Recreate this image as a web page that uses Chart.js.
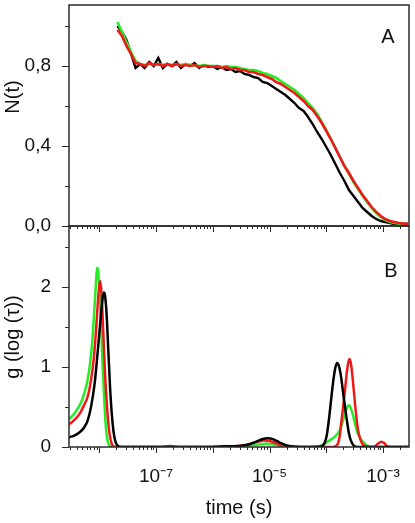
<!DOCTYPE html>
<html>
<head>
<meta charset="utf-8">
<script src="https://cdn.jsdelivr.net/npm/chart.js@4.4.1/dist/chart.umd.min.js"></script>
<style>
  body { margin: 0; background: #fff; }
  #wrap { position: relative; width: 415px; height: 523px; }
  canvas { position: absolute; left: 0; }
  #chartA { top: 0; }
  #chartB { top: 220px; }
</style>
</head>
<body>
<div id="wrap">
  <canvas id="chartA" width="415" height="240"></canvas>
  <canvas id="chartB" width="415" height="303"></canvas>
</div>
<script>
// axis ranges (time in s)
var xMin = 2.93e-9;
var xMax = 2.87e-3;
var xTicks = [1e-7, 1e-5, 1e-3];
var xTickText = ['10\u207B\u2077', '10\u207B\u2075', '10\u207B\u00B3'];

var aTicks = [0, 0.2, 0.4, 0.6, 0.8, 1.0];
var aTickText = ['0,0', '', '0,4', '', '0,8', ''];
var bTicks = [0, 0.5, 1, 1.5, 2, 2.5];
var bTickText = ['0', '', '1', '', '2', ''];

// panel A: N(t), log10 of lag time
var aLog = [-7.68, -7.60, -7.52, -7.44, -7.36, -7.28, -7.20, -7.12, -7.04, -6.96, -6.88, -6.80, -6.72,
  -6.64, -6.56, -6.48, -6.40, -6.32, -6.24, -6.16, -6.08, -6.00, -5.92, -5.84, -5.76, -5.68, -5.60,
  -5.52, -5.44, -5.36, -5.28, -5.20, -5.12, -5.04, -4.96, -4.88, -4.80, -4.72, -4.64, -4.56, -4.48,
  -4.40, -4.32, -4.24, -4.16, -4.08, -4.00, -3.92, -3.84, -3.76, -3.68, -3.60, -3.52, -3.44, -3.36,
  -3.28, -3.20, -3.12, -3.04, -2.96, -2.88, -2.80, -2.72, -2.64, -2.56];
var aBlack = [1.00, 0.97, 0.93, 0.86, 0.79, 0.81, 0.79, 0.82, 0.80, 0.84, 0.79, 0.81, 0.80,
  0.82, 0.79, 0.81, 0.80, 0.815, 0.79, 0.805, 0.795, 0.80, 0.785, 0.795, 0.78, 0.785, 0.77,
  0.775, 0.76, 0.755, 0.745, 0.74, 0.72, 0.715, 0.70, 0.685, 0.67, 0.655, 0.635, 0.615, 0.59,
  0.575, 0.545, 0.51, 0.47, 0.435, 0.395, 0.355, 0.31, 0.265, 0.225, 0.18, 0.15, 0.12, 0.09,
  0.07, 0.05, 0.035, 0.025, 0.02, 0.015, 0.01, 0.01, 0.008, 0.01];
var aRed = [0.98, 0.95, 0.90, 0.86, 0.815, 0.81, 0.80, 0.815, 0.805, 0.81, 0.80, 0.81, 0.80,
  0.81, 0.80, 0.805, 0.80, 0.805, 0.795, 0.80, 0.80, 0.795, 0.80, 0.79, 0.795, 0.785, 0.79,
  0.78, 0.78, 0.77, 0.77, 0.76, 0.755, 0.745, 0.735, 0.72, 0.71, 0.695, 0.68, 0.665, 0.645,
  0.625, 0.60, 0.58, 0.55, 0.515, 0.475, 0.435, 0.39, 0.345, 0.30, 0.265, 0.225, 0.19, 0.155,
  0.125, 0.095, 0.07, 0.05, 0.035, 0.025, 0.02, 0.015, 0.012, 0.012];
var aGreen = [1.02, 0.97, 0.92, 0.87, 0.825, 0.81, 0.805, 0.81, 0.805, 0.81, 0.805, 0.81, 0.805,
  0.81, 0.805, 0.81, 0.805, 0.805, 0.80, 0.805, 0.80, 0.80, 0.80, 0.795, 0.80, 0.795, 0.795,
  0.79, 0.785, 0.78, 0.78, 0.775, 0.765, 0.76, 0.75, 0.74, 0.725, 0.71, 0.695, 0.68, 0.66,
  0.64, 0.615, 0.59, 0.56, 0.52, 0.48, 0.435, 0.39, 0.345, 0.30, 0.26, 0.22, 0.185, 0.15,
  0.12, 0.09, 0.065, 0.045, 0.03, 0.02, 0.015, 0.012, 0.01, 0.01];

// panel B: g(log(tau))
var bBlackLog = [-8.54, -8.45, -8.35, -8.27, -8.20, -8.14, -8.08, -8.02, -7.97, -7.94, -7.92, -7.90,
  -7.87, -7.84, -7.81, -7.78, -7.75, -7.72, -7.68, -7.62, -6.20, -5.80, -5.50, -5.35, -5.22, -5.12,
  -5.03, -4.93, -4.82, -4.70, -4.55, -4.30, -4.10, -4.03, -3.99, -3.95, -3.91, -3.87, -3.84, -3.81,
  -3.78, -3.74, -3.70, -3.66, -3.63, -3.60, -3.57, -3.53, -3.48, -3.40, -2.54];
var bBlack = [0.12, 0.14, 0.18, 0.24, 0.34, 0.52, 0.80, 1.25, 1.65, 1.86, 1.93, 1.90,
  1.65, 1.20, 0.75, 0.42, 0.20, 0.08, 0.02, 0, 0, 0.008, 0.015, 0.035, 0.07, 0.10,
  0.11, 0.095, 0.055, 0.02, 0.003, 0, 0.005, 0.05, 0.15, 0.36, 0.62, 0.86, 0.99, 1.05,
  1.02, 0.88, 0.66, 0.45, 0.30, 0.17, 0.09, 0.03, 0.005, 0, 0];

var bRedLog = [-8.54, -8.45, -8.35, -8.27, -8.20, -8.14, -8.10, -8.06, -8.03, -8.00, -7.98, -7.96,
  -7.93, -7.90, -7.86, -7.82, -7.78, -7.74, -7.68, -6.90, -6.76, -6.62, -5.90, -5.60, -5.40, -5.22,
  -5.10, -5.00, -4.90, -4.78, -4.60, -4.30, -3.90, -3.84, -3.79, -3.76, -3.73, -3.70, -3.67, -3.64,
  -3.61, -3.59, -3.56, -3.53, -3.50, -3.47, -3.44, -3.41, -3.38, -3.33, -3.25, -3.15, -3.09, -3.03,
  -2.98, -2.93, -2.85, -2.54];
var bRed = [0.28, 0.33, 0.41, 0.52, 0.64, 0.86, 1.08, 1.42, 1.75, 2.02, 2.07, 1.92,
  1.45, 0.95, 0.47, 0.17, 0.04, 0.005, 0, 0, 0.012, 0, 0, 0.008, 0.03, 0.065,
  0.08, 0.075, 0.05, 0.02, 0.003, 0, 0, 0.01, 0.05, 0.15, 0.34, 0.52, 0.71, 0.92,
  1.06, 1.10, 1.02, 0.82, 0.59, 0.38, 0.21, 0.12, 0.06, 0.015, 0, 0.005, 0.04, 0.067,
  0.05, 0.01, 0, 0];

var bGreenLog = [-8.54, -8.45, -8.38, -8.32, -8.26, -8.21, -8.16, -8.12, -8.09, -8.06, -8.04, -8.02,
  -8.00, -7.97, -7.94, -7.91, -7.88, -7.85, -7.82, -7.78, -6.00, -5.60, -5.35, -5.15, -5.05, -4.95,
  -4.80, -4.60, -4.30, -4.12, -4.03, -3.95, -3.88, -3.82, -3.76, -3.71, -3.67, -3.63, -3.60, -3.57,
  -3.53, -3.49, -3.45, -3.41, -3.36, -3.32, -3.26, -3.18, -2.54];
var bGreen = [0.34, 0.41, 0.48, 0.56, 0.68, 0.82, 1.05, 1.35, 1.68, 2.02, 2.24, 2.20,
  2.00, 1.55, 1.00, 0.55, 0.22, 0.07, 0.015, 0, 0, 0.005, 0.018, 0.035, 0.04, 0.035,
  0.015, 0.002, 0, 0.01, 0.04, 0.08, 0.11, 0.15, 0.21, 0.32, 0.42, 0.50, 0.52, 0.49,
  0.40, 0.28, 0.18, 0.12, 0.07, 0.04, 0.01, 0, 0];

var RED = '#ee1a1a';
var GREEN = '#26ec26';
var BLACK = '#000000';

Chart.defaults.font.family = '"Liberation Sans", Arial, sans-serif';
Chart.defaults.color = '#111';

function pts(logs, vals) {
  return logs.map(function (l, i) { return { x: Math.pow(10, l), y: vals[i] }; });
}

// no extra label overflow padding, so the plot boxes land where the figure has them
function noPad(s) {
  s.paddingTop = 0;
  s.paddingBottom = 0;
  s.paddingLeft = 0;
  s.paddingRight = 0;
}

// frame, outward ticks, panel letter and y title
var panelDeco = {
  id: 'panelDeco',
  afterDraw: function (chart, args, opts) {
    var ctx = chart.ctx, a = chart.chartArea;
    var x = chart.scales.x, y = chart.scales.y;
    ctx.save();
    ctx.strokeStyle = '#2b2b2b';
    ctx.lineWidth = 1.5;
    ctx.strokeRect(a.left, a.top, a.right - a.left, a.bottom - a.top);
    ctx.lineWidth = 1;
    for (var e = -9; e <= -3; e++) {
      for (var m = 1; m <= 9; m++) {
        var v = m * Math.pow(10, e);
        if (v < x.min || v > x.max) continue;
        var px = Math.round(x.getPixelForValue(v)) + 0.5;
        ctx.beginPath();
        ctx.moveTo(px, a.bottom);
        ctx.lineTo(px, a.bottom + (m === 1 ? 6 : 3));
        ctx.stroke();
      }
    }
    y.ticks.forEach(function (t) {
      var py = Math.round(y.getPixelForValue(t.value)) + 0.5;
      ctx.beginPath();
      ctx.moveTo(a.left, py);
      ctx.lineTo(a.left - (t.label ? 7 : 4), py);
      ctx.stroke();
    });
    ctx.fillStyle = '#111';
    ctx.font = '20px "Liberation Sans", Arial, sans-serif';
    ctx.textAlign = 'center';
    ctx.textBaseline = 'alphabetic';
    ctx.fillText(opts.letter, opts.letterX, opts.letterY);
    ctx.translate(opts.titleX, opts.titleY);
    ctx.rotate(-Math.PI / 2);
    ctx.fillText(opts.title, 0, 0);
    ctx.restore();
  }
};

function yAxis(max, ticks, text) {
  return {
    min: 0,
    max: max,
    afterFit: function (s) { s.width = 69; noPad(s); },
    afterBuildTicks: function (s) { s.ticks = ticks.map(function (v) { return { value: v }; }); },
    ticks: {
      callback: function (v, i) { return text[i]; },
      font: { size: 19 },
      color: '#111',
      padding: 10,
      autoSkip: false
    },
    grid: { display: false },
    border: { display: false }
  };
}

var chartA = new Chart(document.getElementById('chartA'), {
  type: 'line',
  data: {
    datasets: [
      { data: pts(aLog, aRed), borderColor: RED, borderWidth: 2.6 },
      { data: pts(aLog, aGreen), borderColor: GREEN, borderWidth: 2.6 },
      { data: pts(aLog, aBlack), borderColor: BLACK, borderWidth: 2.4 }
    ]
  },
  options: {
    responsive: false,
    animation: false,
    devicePixelRatio: 1,
    layout: { padding: { left: 0, right: 6, top: 5, bottom: 0 } },
    elements: { point: { radius: 0 }, line: { tension: 0 } },
    scales: {
      x: {
        type: 'logarithmic',
        min: xMin,
        max: xMax,
        afterFit: function (s) { s.height = 14; noPad(s); },
        ticks: { display: false },
        grid: { display: false },
        border: { display: false }
      },
      y: yAxis(1.105, aTicks, aTickText)
    },
    plugins: {
      legend: { display: false },
      tooltip: { enabled: false },
      panelDeco: { letter: 'A', letterX: 388, letterY: 43, title: 'N(t)', titleX: 19, titleY: 97 }
    }
  },
  plugins: [panelDeco]
});

var chartB = new Chart(document.getElementById('chartB'), {
  type: 'line',
  data: {
    datasets: [
      { data: pts(bBlackLog, bBlack), borderColor: BLACK, borderWidth: 2.5 },
      { data: pts(bRedLog, bRed), borderColor: RED, borderWidth: 2.5 },
      { data: pts(bGreenLog, bGreen), borderColor: GREEN, borderWidth: 2.5 }
    ]
  },
  options: {
    responsive: false,
    animation: false,
    devicePixelRatio: 1,
    layout: { padding: { left: 0, right: 6, top: 6, bottom: 0 } },
    elements: { point: { radius: 0 }, line: { cubicInterpolationMode: 'monotone' } },
    scales: {
      x: {
        type: 'logarithmic',
        min: xMin,
        max: xMax,
        afterFit: function (s) { s.height = 76; noPad(s); },
        afterBuildTicks: function (s) { s.ticks = xTicks.map(function (v) { return { value: v }; }); },
        ticks: {
          callback: function (v, i) { return xTickText[i]; },
          font: { size: 19 },
          color: '#111',
          padding: 10,
          maxRotation: 0,
          autoSkip: false
        },
        title: {
          display: true,
          text: 'time (s)',
          font: { size: 20 },
          color: '#111',
          padding: { top: 0, bottom: 3 }
        },
        grid: { display: false },
        border: { display: false }
      },
      y: yAxis(2.76, bTicks, bTickText)
    },
    plugins: {
      legend: { display: false },
      tooltip: { enabled: false },
      panelDeco: { letter: 'B', letterX: 391, letterY: 57, title: 'g (log (\u03C4))', titleX: 19, titleY: 117 }
    }
  },
  plugins: [panelDeco]
});
</script>
</body>
</html>
